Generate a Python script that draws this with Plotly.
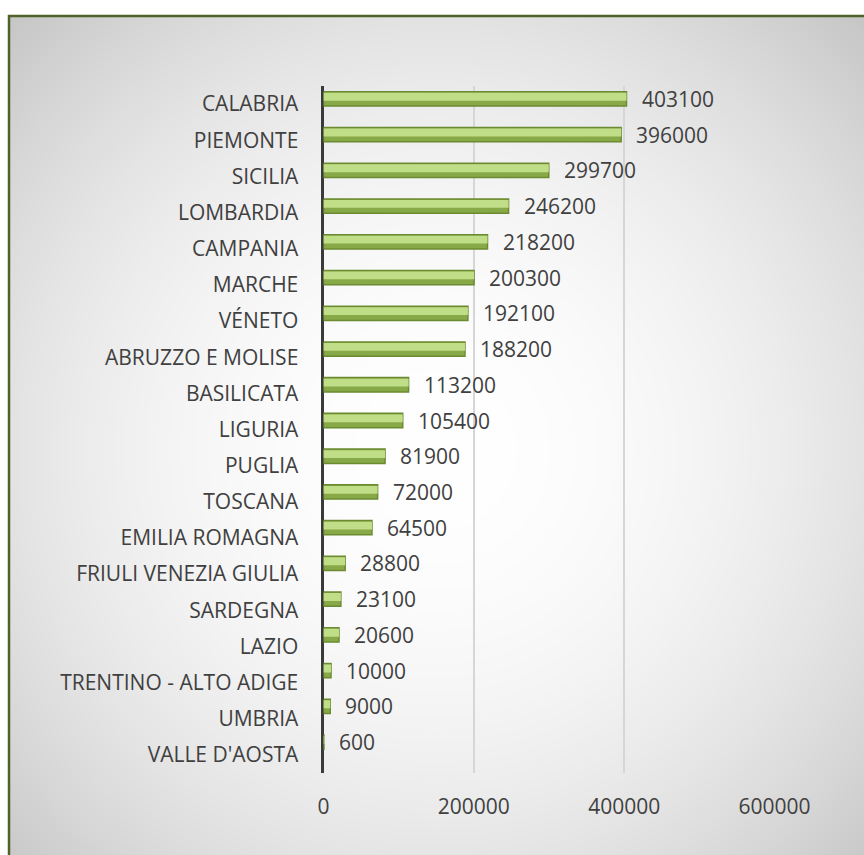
import base64
import struct
import zlib

import numpy as np
import plotly.graph_objects as go

# ---- data -------------------------------------------------------------
regions = [
    "CALABRIA", "PIEMONTE", "SICILIA", "LOMBARDIA", "CAMPANIA", "MARCHE",
    "VÉNETO", "ABRUZZO E MOLISE", "BASILICATA", "LIGURIA", "PUGLIA",
    "TOSCANA", "EMILIA ROMAGNA", "FRIULI VENEZIA GIULIA", "SARDEGNA",
    "LAZIO", "TRENTINO - ALTO ADIGE", "UMBRIA", "VALLE D'AOSTA",
]
values = [
    403100, 396000, 299700, 246200, 218200, 200300, 192100, 188200,
    113200, 105400, 81900, 72000, 64500, 28800, 23100, 20600, 10000,
    9000, 600,
]
x_ticks = [0, 200000, 400000, 600000]

# ---- canvas -----------------------------------------------------------
W, H = 864, 855
FONT = "Open Sans"
TEXT = "#404040"
FSIZE = 21


def px_x(p):
    return p / W


def px_y(p):
    return 1 - p / H


def gray_png_uri(arr):
    """Encode a 2-D uint8 array as a grayscale PNG data URI."""
    h, w = arr.shape
    raw = b"".join(b"\x00" + arr[r].tobytes() for r in range(h))

    def chunk(tag, data):
        body = tag + data
        return (struct.pack(">I", len(data)) + body
                + struct.pack(">I", zlib.crc32(body) & 0xFFFFFFFF))

    png = (b"\x89PNG\r\n\x1a\n"
           + chunk(b"IHDR", struct.pack(">IIBBBBB", w, h, 8, 0, 0, 0, 0))
           + chunk(b"IDAT", zlib.compress(raw, 9))
           + chunk(b"IEND", b""))
    return "data:image/png;base64," + base64.b64encode(png).decode()


# radial white-to-grey fill of the chart area
bg_left, bg_top = 10, 17
bw, bh = W - bg_left, H - bg_top
yy, xx = np.mgrid[0:bh, 0:bw]
cx, cy = 436 - bg_left, 450 - bg_top
dist = np.hypot(xx - cx, yy - cy)
shade = 255 - 29 * (dist / 434.0) ** 2
bg = np.clip(shade, 185, 255).astype(np.uint8)
bg_uri = gray_png_uri(bg)

# ---- figure -----------------------------------------------------------
fig = go.Figure()

# invisible points that carry the category labels on the main axes
fig.add_trace(go.Scatter(
    x=values, y=regions, mode="markers",
    marker=dict(opacity=0), hoverinfo="skip", showlegend=False,
    xaxis="x", yaxis="y",
))

# bars: darker body with a lighter highlight band on top
fig.add_trace(go.Bar(
    x=values, y=regions, orientation="h",
    width=0.40, offset=-0.20,
    marker=dict(color="#88a948", line=dict(color="#6b8b31", width=1.5)),
    hoverinfo="skip", showlegend=False,
    xaxis="x2", yaxis="y2",
))
fig.add_trace(go.Bar(
    x=values, y=regions, orientation="h",
    width=0.22, offset=-0.05,
    marker=dict(color="#c0dd88", line=dict(width=0)),
    hoverinfo="skip", showlegend=False,
    xaxis="x2", yaxis="y2",
))

# value labels to the right of each bar
for region, val in zip(regions, values):
    fig.add_annotation(
        x=val, y=region, xref="x2", yref="y2",
        text=str(val), showarrow=False,
        xanchor="left", xshift=13,
        font=dict(family=FONT, size=FSIZE, color=TEXT),
    )

x_domain = [px_x(323.5), px_x(774.5)]
cat_order = list(reversed(regions))

fig.update_layout(
    width=W, height=H, autosize=False,
    margin=dict(l=0, r=0, t=0, b=0, pad=0, autoexpand=False),
    paper_bgcolor="white",
    plot_bgcolor="rgba(0,0,0,0)",
    barmode="overlay",
    showlegend=False,
    font=dict(family=FONT, size=FSIZE, color=TEXT),
    xaxis=dict(
        domain=x_domain, range=[0, 600000],
        tickmode="array", tickvals=x_ticks,
        ticktext=[str(v) for v in x_ticks],
        showgrid=True, gridcolor="#d6d6d6", gridwidth=1.5,
        zeroline=False, showline=False, ticks="",
        ticklabelstandoff=19, automargin=False,
        tickfont=dict(family=FONT, size=FSIZE, color=TEXT),
        anchor="y", fixedrange=True,
    ),
    yaxis=dict(
        domain=[px_y(773), px_y(86)],
        type="category", categoryorder="array", categoryarray=cat_order,
        range=[-0.5, len(regions) - 0.5],
        showgrid=False, zeroline=False,
        showline=True, linecolor="#3a3a3a", linewidth=3,
        ticks="", ticklabelstandoff=18, automargin=False,
        tickfont=dict(family=FONT, size=FSIZE, color=TEXT),
        anchor="x", fixedrange=True,
    ),
    xaxis2=dict(
        domain=x_domain, range=[0, 600000],
        visible=False, showgrid=False, zeroline=False, automargin=False,
        anchor="y2", fixedrange=True,
    ),
    yaxis2=dict(
        domain=[px_y(760), px_y(81)],
        type="category", categoryorder="array", categoryarray=cat_order,
        range=[-0.5, len(regions) - 0.5],
        visible=False, showgrid=False, zeroline=False, automargin=False,
        anchor="x2", fixedrange=True,
    ),
    images=[dict(
        source=bg_uri, xref="paper", yref="paper",
        x=px_x(bg_left), y=px_y(bg_top),
        sizex=bw / W, sizey=bh / H,
        xanchor="left", yanchor="top",
        sizing="stretch", layer="below",
    )],
    shapes=[dict(
        type="rect", xref="paper", yref="paper",
        x0=px_x(9), y0=-0.05, x1=1.05, y1=px_y(16),
        line=dict(color="#4f6228", width=2.5),
        fillcolor="rgba(0,0,0,0)",
    )],
)

fig.write_html("out.html", config={"responsive": False})
